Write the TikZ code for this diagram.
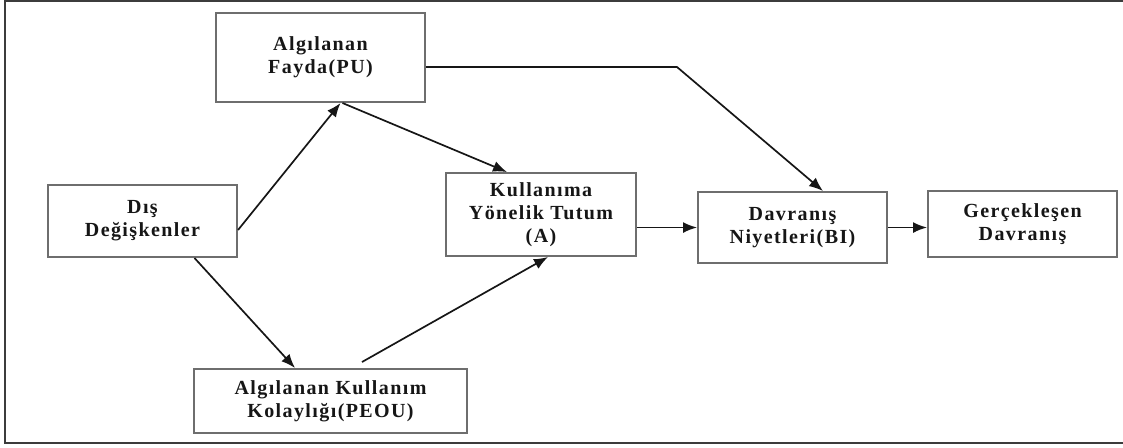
\documentclass[tikz,border=0pt]{standalone}
\usepackage{fontspec}
\setmainfont{Liberation Serif}[LetterSpace=7]
\usetikzlibrary{arrows.meta}
\definecolor{framegray}{HTML}{3c3c3c}
\definecolor{boxgray}{HTML}{6e6e6e}
\definecolor{ink}{HTML}{161616}

\begin{document}
\begin{tikzpicture}[
    x=0.5pt, y=-0.5pt,
    >={Latex[length=7pt,width=5.5pt]},
    font=\fontsize{10}{11.5}\selectfont\bfseries,
    tambox/.style={draw=boxgray, line width=1pt, fill=white, align=center,
                   inner sep=0pt, text=ink},
    link/.style={->, line width=0.85pt, draw=ink},
]

% ── Canvas and outer frame (right side is cut off) ──
\useasboundingbox (0,0) rectangle (1123,447);
\draw[framegray, line width=1.4pt] (1130,1) -- (5,1) -- (5,443) -- (1130,443);

% ── Boxes ──
\node[tambox, minimum width=104.5pt, minimum height=44.5pt] (fayda) at (320.5,57.5)
    {Algılanan\\Fayda(PU)};
\node[tambox, minimum width=94.5pt, minimum height=36pt] (dis) at (142.5,221)
    {Dış\\Değişkenler};
\node[tambox, minimum width=95pt, minimum height=41.5pt] (tutum) at (541,214.5)
    {Kullanıma\\Yönelik Tutum\\(A)};
\node[tambox, minimum width=94.5pt, minimum height=35.5pt] (niyet) at (792.5,227.5)
    {Davranış\\Niyetleri(BI)};
\node[tambox, minimum width=94.5pt, minimum height=33pt] (davranis) at (1022.5,224)
    {Gerçekleşen\\Davranış};
\node[tambox, minimum width=136.5pt, minimum height=32pt] (peou) at (330.5,401)
    {Algılanan Kullanım\\Kolaylığı(PEOU)};

% ── Connectors ──
\coordinate (bend) at (677,67);

\draw[link] ([yshift=-4.5pt]dis.east) -- ([xshift=10pt]fayda.south);
\draw[link] ([xshift=26pt]dis.south) -- ([xshift=-17.75pt]peou.north);
\draw[link] ([xshift=11pt]fayda.south) -- ([xshift=-17pt]tutum.north);
\draw[link] ([xshift=15.75pt,yshift=3pt]peou.north) -- ([xshift=3.5pt]tutum.south);
\draw[link] (tutum.east |- niyet.west) -- (niyet.west);
\draw[link] ([yshift=-4.75pt]fayda.east) -- (bend) -- ([xshift=15.25pt]niyet.north);
\draw[link] (niyet.east) -- (niyet.east -| davranis.west);

\end{tikzpicture}
\end{document}
